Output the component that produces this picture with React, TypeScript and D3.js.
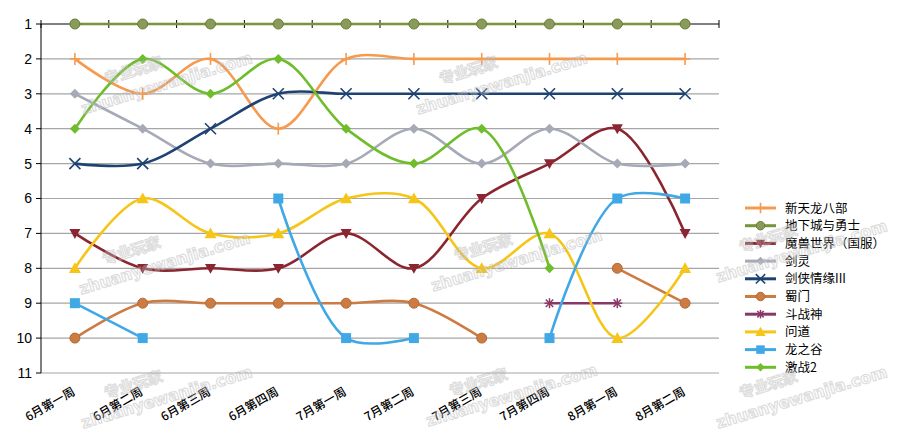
import React from "react";
import * as d3 from "d3";

const categories = [
  "6月第一周", "6月第二周", "6月第三周", "6月第四周",
  "7月第一周", "7月第二周", "7月第三周", "7月第四周",
  "8月第一周", "8月第二周",
];

const seriesNames = [
  "新天龙八部", "地下城与勇士", "魔兽世界（国服）", "剑灵", "剑侠情缘III",
  "蜀门", "斗战神", "问道", "龙之谷", "激战2",
];

const tianlong = [2, 3, 2, 4, 2, 2, 2, 2, 2, 2];
const dnf = [1, 1, 1, 1, 1, 1, 1, 1, 1, 1];
const wow = [7, 8, 8, 8, 7, 8, 6, 5, 4, 7];
const bladeSoul = [3, 4, 5, 5, 5, 4, 5, 4, 5, 5];
const jx3 = [5, 5, 4, 3, 3, 3, 3, 3, 3, 3];
const shumen = [10, 9, 9, 9, 9, 9, 10, null, 8, 9];
const douzhanshen = [null, null, null, null, null, null, null, 9, 9, null];
const wendao = [8, 6, 7, 7, 6, 6, 8, 7, 10, 8];
const dragonNest = [9, 10, null, 6, 10, 10, null, 10, 6, 6];
const gw2 = [4, 2, 3, 2, 4, 5, 4, 8, null, null];

const rankTicks = [1, 2, 3, 4, 5, 6, 7, 8, 9, 10, 11];

type Marker = "plus" | "circle" | "triDown" | "diamond" | "cross" | "star" | "triUp" | "square";

const seriesList: { name: string; values: (number | null)[]; color: string; fill: string; marker: Marker; size: number }[] = [
  { name: seriesNames[0], values: tianlong, color: "#f59a4e", fill: "#f59a4e", marker: "plus", size: 5 },
  { name: seriesNames[1], values: dnf, color: "#77933c", fill: "#8a9a5b", marker: "circle", size: 5 },
  { name: seriesNames[2], values: wow, color: "#8b2530", fill: "#8b2530", marker: "triDown", size: 5.5 },
  { name: seriesNames[3], values: bladeSoul, color: "#a6a9b6", fill: "#a6a9b6", marker: "diamond", size: 5 },
  { name: seriesNames[4], values: jx3, color: "#1e4373", fill: "#1e4373", marker: "cross", size: 5.5 },
  { name: seriesNames[5], values: shumen, color: "#cc7b43", fill: "#cc7b43", marker: "circle", size: 5 },
  { name: seriesNames[6], values: douzhanshen, color: "#893766", fill: "#893766", marker: "star", size: 5 },
  { name: seriesNames[7], values: wendao, color: "#f5c518", fill: "#f5c518", marker: "triUp", size: 6 },
  { name: seriesNames[8], values: dragonNest, color: "#41a8e6", fill: "#41a8e6", marker: "square", size: 5 },
  { name: seriesNames[9], values: gw2, color: "#6fbd2c", fill: "#6fbd2c", marker: "diamond", size: 5 },
];

const W = 899;
const H = 438;
const plotLeft = 41;
const plotRight = 719;
const plotTop = 24;
const plotBottom = 373;

const x = d3.scaleBand<string>().domain(categories).range([plotLeft, plotRight]).padding(0);
const y = d3.scaleLinear().domain([1, 11]).range([plotTop, plotBottom]);
const cx = (c: string) => (x(c) as number) + x.bandwidth() / 2;

const CJK = "'Noto Sans CJK SC', 'Noto Sans', sans-serif";

function MarkerShape({ kind, px, py, s, color, fill }: { kind: Marker; px: number; py: number; s: number; color: string; fill: string }) {
  switch (kind) {
    case "plus":
      return (
        <g stroke={color} strokeWidth={1.6}>
          <line x1={px} y1={py - s - 1} x2={px} y2={py + s + 1} />
          <line x1={px - s} y1={py} x2={px + s} y2={py} />
        </g>
      );
    case "circle":
      return <circle cx={px} cy={py} r={s} fill={fill} stroke={d3.color(color)!.darker(0.4).toString()} strokeWidth={1} />;
    case "triDown":
      return <path d={`M${px - s},${py - s * 0.8}L${px + s},${py - s * 0.8}L${px},${py + s}Z`} fill={fill} />;
    case "triUp":
      return <path d={`M${px - s},${py + s * 0.8}L${px + s},${py + s * 0.8}L${px},${py - s}Z`} fill={fill} />;
    case "diamond":
      return <path d={`M${px},${py - s}L${px + s},${py}L${px},${py + s}L${px - s},${py}Z`} fill={fill} />;
    case "square":
      return <rect x={px - s} y={py - s} width={2 * s} height={2 * s} fill={fill} />;
    case "cross":
      return (
        <g stroke={color} strokeWidth={1.6}>
          <line x1={px - s} y1={py - s} x2={px + s} y2={py + s} />
          <line x1={px - s} y1={py + s} x2={px + s} y2={py - s} />
        </g>
      );
    case "star":
      return (
        <g stroke={color} strokeWidth={1.5}>
          <line x1={px - s} y1={py} x2={px + s} y2={py} />
          <line x1={px} y1={py - s} x2={px} y2={py + s} />
          <line x1={px - s * 0.75} y1={py - s * 0.75} x2={px + s * 0.75} y2={py + s * 0.75} />
          <line x1={px - s * 0.75} y1={py + s * 0.75} x2={px + s * 0.75} y2={py - s * 0.75} />
        </g>
      );
  }
}

const watermarks = [
  { x: 165, y: 78 },
  { x: 500, y: 78 },
  { x: 163, y: 258 },
  { x: 515, y: 255 },
  { x: 165, y: 392 },
  { x: 510, y: 390 },
  { x: 800, y: 246 },
  { x: 800, y: 392 },
];

export default function App() {
  const line = d3
    .line<number | null>()
    .defined((d) => d != null)
    .x((_, i) => cx(categories[i]))
    .y((d) => y(d as number))
    .curve(d3.curveCatmullRom.alpha(0.5));

  const legendX = 745;
  const legendY0 = 208;
  const legendStep = 17.7;

  return (
    <div style={{ position: "absolute", left: 0, top: 0 }}>
      <svg width={W} height={H} style={{ display: "block", background: "#fff" }}>
        {/* horizontal gridlines */}
        {rankTicks.slice(1).map((t) => (
          <line key={t} x1={plotLeft} x2={plotRight} y1={y(t)} y2={y(t)} stroke="#a6a6a6" strokeWidth={1.2} />
        ))}

        {/* value axis */}
        <line x1={plotLeft} x2={plotLeft} y1={plotTop} y2={plotBottom} stroke="#000" strokeWidth={1} />
        {rankTicks.map((t) => (
          <g key={t}>
            <line x1={plotLeft - 5} x2={plotLeft} y1={y(t)} y2={y(t)} stroke="#000" />
            <text x={plotLeft - 9} y={y(t)} dy="0.35em" textAnchor="end" fontFamily="Arial, 'Liberation Sans', sans-serif" fontSize={14} fill="#000">
              {t}
            </text>
          </g>
        ))}

        {/* category axis along the top */}
        <line x1={plotLeft} x2={plotRight} y1={plotTop} y2={plotTop} stroke="#000" strokeWidth={1} />
        {d3.range(categories.length + 1).map((k) => {
          const px = plotLeft + k * x.bandwidth();
          return <line key={k} x1={px} x2={px} y1={plotTop - 4} y2={plotTop + 4} stroke="#000" />;
        })}

        {/* category labels */}
        {categories.map((c) => (
          <text
            key={c}
            transform={`translate(${cx(c) + 1},${plotBottom + 21}) rotate(-30)`}
            textAnchor="end"
            fontFamily={CJK}
            fontWeight={500}
            fontSize={12}
            fill="#000"
          >
            {c}
          </text>
        ))}

        {/* series lines */}
        {seriesList.map((s) => (
          <path key={s.name} d={line(s.values) || ""} fill="none" stroke={s.color} strokeWidth={2.6} strokeLinejoin="round" />
        ))}

        {/* series markers */}
        {seriesList.map((s) =>
          s.values.map((v, i) =>
            v == null ? null : (
              <MarkerShape key={s.name + i} kind={s.marker} px={cx(categories[i])} py={y(v)} s={s.size} color={s.color} fill={s.fill} />
            )
          )
        )}

        {/* legend */}
        {seriesList.map((s, i) => {
          const ly = legendY0 + i * legendStep;
          return (
            <g key={s.name}>
              <line x1={legendX} x2={legendX + 31} y1={ly} y2={ly} stroke={s.color} strokeWidth={3} />
              <MarkerShape kind={s.marker} px={legendX + 15.5} py={ly} s={s.size * 0.85} color={s.color} fill={s.fill} />
              <text x={legendX + 40} y={ly} dy="0.36em" fontFamily={CJK} fontSize={12.5} fill="#000">
                {s.name}
              </text>
            </g>
          );
        })}

        {/* site watermark */}
        {watermarks.map((w, i) => (
          <g key={i} transform={`translate(${w.x},${w.y}) rotate(-17)`} opacity={0.45}>
            <text x={-28} y={-11} textAnchor="middle" fontFamily={CJK} fontWeight={700} fontSize={15} fill="#fff" fillOpacity={0.5} stroke="#b5b5b5" strokeWidth={1.2}>
              专业玩家
            </text>
            <text x={0} y={11} textAnchor="middle" fontFamily="'DejaVu Sans', sans-serif" fontWeight={700} fontSize={16} fill="#fff" fillOpacity={0.5} stroke="#b5b5b5" strokeWidth={1.2}>
              zhuanyewanjia.com
            </text>
          </g>
        ))}
      </svg>
    </div>
  );
}
